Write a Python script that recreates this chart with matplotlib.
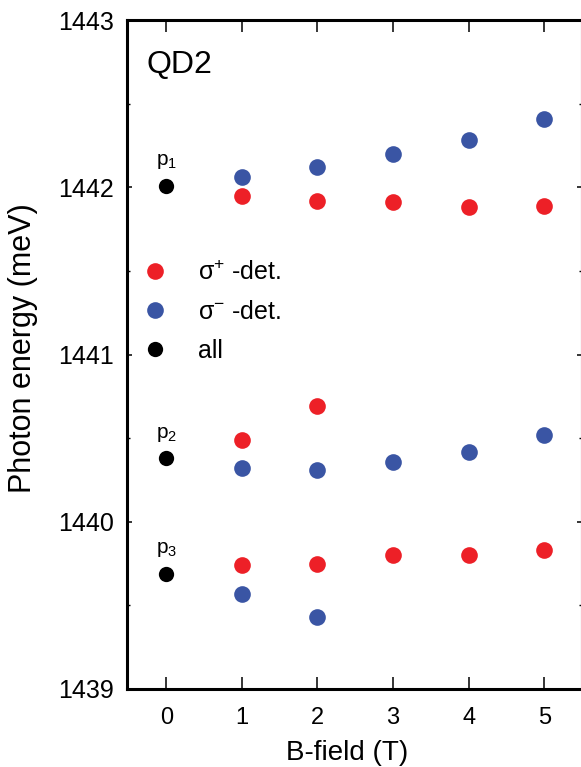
import numpy as np
import matplotlib
matplotlib.use("Agg")
import matplotlib.pyplot as plt
from matplotlib.ticker import MultipleLocator, FormatStrFormatter

plt.rcParams.update({
    "font.family": ["Liberation Sans", "DejaVu Sans"],
    "mathtext.default": "regular",
})

# =========================================================
# DATA
# =========================================================

# zero field, all polarisations
b_all = [0, 0, 0]
e_all = [1442.01, 1440.38, 1439.69]
peak_names = ["p$_1$", "p$_2$", "p$_3$"]

# sigma+ detection
b_plus = [1, 2, 3, 4, 5, 1, 2, 1, 2, 3, 4, 5]
e_plus = [1441.95, 1441.92, 1441.91, 1441.88, 1441.89,
          1440.49, 1440.69,
          1439.74, 1439.75, 1439.80, 1439.80, 1439.83]

# sigma- detection
b_minus = [1, 2, 3, 4, 5, 1, 2, 3, 4, 5, 1, 2]
e_minus = [1442.06, 1442.12, 1442.20, 1442.28, 1442.41,
           1440.32, 1440.31, 1440.36, 1440.42, 1440.52,
           1439.57, 1439.43]

red = "#ED2027"
blue = "#3A55A4"

# =========================================================
# PLOT
# =========================================================

fig = plt.figure(figsize=(5.81, 7.67), dpi=100)
ax = fig.add_axes([127 / 581, 78 / 767, 455 / 581, 669 / 767])

ms = 12
ax.plot(b_plus, e_plus, "o", color=red, ms=ms, mec="none", label="σ$^{+}$ -det.")
ax.plot(b_minus, e_minus, "o", color=blue, ms=ms, mec="none", label="σ$^{-}$ -det.")
ax.plot(b_all, e_all, "o", color="black", ms=11, mec="none", label="all")

# peak names above the zero-field points
for e, name in zip(e_all, peak_names):
    ax.annotate(name, (0, e), xytext=(0, 14.5), textcoords="offset points",
                ha="center", va="baseline", fontsize=15)

ax.text(0.043, 0.921, "QD2", transform=ax.transAxes, fontsize=23,
        ha="left", va="baseline")

ax.set_xlim(-0.52, 5.5)
ax.set_ylim(1439, 1443)
ax.set_xticks(range(6))
ax.yaxis.set_major_locator(MultipleLocator(1))
ax.yaxis.set_minor_locator(MultipleLocator(0.5))
ax.yaxis.set_major_formatter(FormatStrFormatter("%d"))

for s in ax.spines.values():
    s.set_linewidth(2.2)

ax.tick_params(axis="x", which="major", direction="in", top=True,
               length=8.5, width=1.1, labelsize=17, pad=13)
ax.tick_params(axis="y", which="major", direction="in", right=True,
               length=3.8, width=1.1, labelsize=18, pad=9.5)
ax.tick_params(axis="y", which="minor", direction="in", right=True,
               length=2.2, width=1.0)

ax.set_xlabel("B-field (T)", fontsize=20)
ax.set_ylabel("Photon energy (meV)", fontsize=22)
ax.xaxis.set_label_coords(0.4835, -0.076)
ax.yaxis.set_label_coords(-0.196, 0.51)

ax.legend(loc="upper left", bbox_to_anchor=(0.008, 0.655), frameon=False,
          fontsize=18, handletextpad=1.15, labelspacing=0.6,
          borderaxespad=0, handlelength=1.15)

fig.savefig("out.png", dpi=100)
